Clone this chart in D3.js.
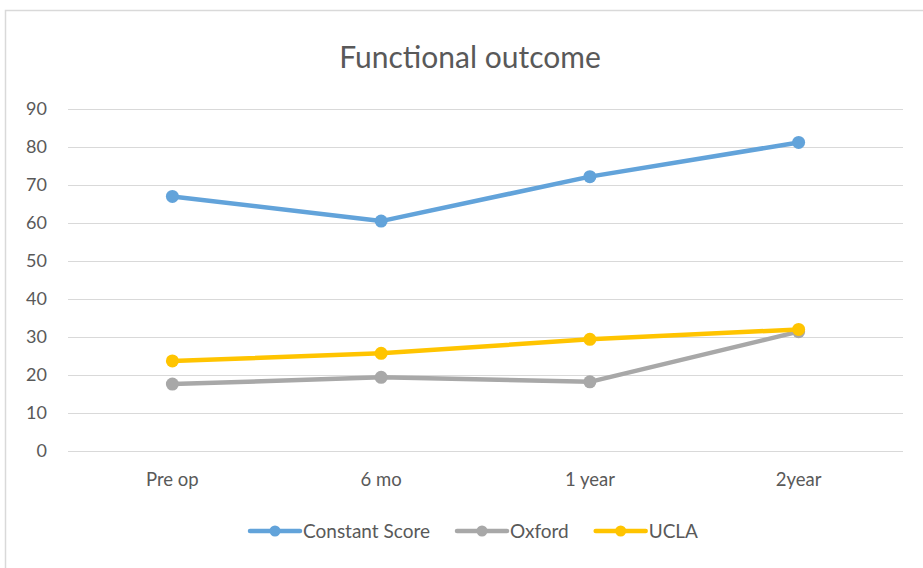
<!DOCTYPE html>
<html>
<head>
<meta charset="utf-8">
<script src="https://cdn.jsdelivr.net/npm/d3@7"></script>
<style>
  body { margin: 0; background: #fff; }
  svg text { font-family: Lato, "Open Sans", sans-serif; fill: #595959; }
</style>
</head>
<body>
<svg width="923" height="568"></svg>
<script>
(function () {
  'use strict';
  const titleText = 'Functional outcome';
  const categories = ['Pre op', '6 mo', '1 year', '2year'];
  const constantScore = [67.0, 60.5, 72.2, 81.2];
  const oxford = [17.6, 19.4, 18.2, 31.4];
  const ucla = [23.7, 25.7, 29.4, 32.0];
  const yTicks = [0, 10, 20, 30, 40, 50, 60, 70, 80, 90];
  const seriesNames = ['Constant Score', 'Oxford', 'UCLA'];
  const colors = ['#62A3DA', '#A8A8A8', '#FFC400'];

  const svg = d3.select('svg');
  const series = [constantScore, oxford, ucla].map((vals, i) => ({
    name: seriesNames[i],
    color: colors[i],
    values: vals.map((v, j) => ({ cat: categories[j], v: v }))
  }));

  // chart frame
  svg.append('rect')
    .attr('x', 5.5).attr('y', 10.5)
    .attr('width', 940).attr('height', 580)
    .attr('fill', 'none')
    .attr('stroke', '#D9D9D9')
    .attr('stroke-width', 1.5);

  const margin = { top: 109, left: 68 };
  const innerWidth = 903 - 68;
  const innerHeight = 451 - 109;

  const xScale = d3.scaleBand().domain(categories).range([0, innerWidth]);
  const yScale = d3.scaleLinear().domain([0, 90]).range([innerHeight, 0]);

  const g = svg.append('g')
    .attr('transform', `translate(${margin.left},${margin.top})`);

  // gridlines + y labels
  const yAxis = d3.axisLeft(yScale)
    .tickValues(yTicks)
    .tickSize(-innerWidth)
    .tickPadding(21);
  const yAxisG = g.append('g').call(yAxis);
  yAxisG.select('.domain').remove();
  yAxisG.selectAll('line').attr('stroke', '#D9D9D9').attr('stroke-width', 1.2);
  yAxisG.selectAll('text')
    .attr('font-size', 18)
    .style('font-family', 'Lato, "Open Sans", sans-serif')
    .attr('fill', '#595959');

  // x labels
  const xAxisG = g.append('g')
    .attr('transform', `translate(0,${innerHeight})`)
    .call(d3.axisBottom(xScale).tickSize(0).tickPadding(22));
  xAxisG.select('.domain').remove();
  xAxisG.selectAll('text')
    .attr('font-size', 18.5)
    .style('font-family', 'Lato, "Open Sans", sans-serif')
    .attr('fill', '#595959');

  const cx = d => xScale(d.cat) + xScale.bandwidth() / 2;
  const line = d3.line().x(cx).y(d => yScale(d.v));

  const sg = g.selectAll('.series').data(series).enter().append('g')
    .attr('class', 'series');
  sg.append('path')
    .attr('d', d => line(d.values))
    .attr('fill', 'none')
    .attr('stroke', d => d.color)
    .attr('stroke-width', 4.5)
    .attr('stroke-linejoin', 'round');
  sg.selectAll('circle').data(d => d.values.map(v => ({ ...v, color: d.color })))
    .enter().append('circle')
    .attr('cx', cx)
    .attr('cy', d => yScale(d.v))
    .attr('r', 6.5)
    .attr('fill', d => d.color);

  // title
  svg.append('text')
    .attr('x', 470).attr('y', 68)
    .attr('text-anchor', 'middle')
    .attr('font-size', 30)
    .text(titleText);

  // legend
  const legend = svg.append('g');
  let xPos = 0;
  series.forEach(s => {
    const item = legend.append('g').attr('transform', `translate(${xPos},0)`);
    item.append('line')
      .attr('x1', 0).attr('x2', 50).attr('y1', 0).attr('y2', 0)
      .attr('stroke', s.color).attr('stroke-width', 4.5)
      .attr('stroke-linecap', 'round');
    item.append('circle').attr('cx', 25).attr('cy', 0).attr('r', 5.5).attr('fill', s.color);
    const t = item.append('text')
      .attr('x', 53).attr('y', 6.5)
      .attr('font-size', 19)
      .text(s.name);
    xPos += 53 + t.node().getComputedTextLength() + 27;
  });
  const legendWidth = xPos - 27;
  legend.attr('transform', `translate(${474 - legendWidth / 2},531)`);
}());
</script>
</body>
</html>
